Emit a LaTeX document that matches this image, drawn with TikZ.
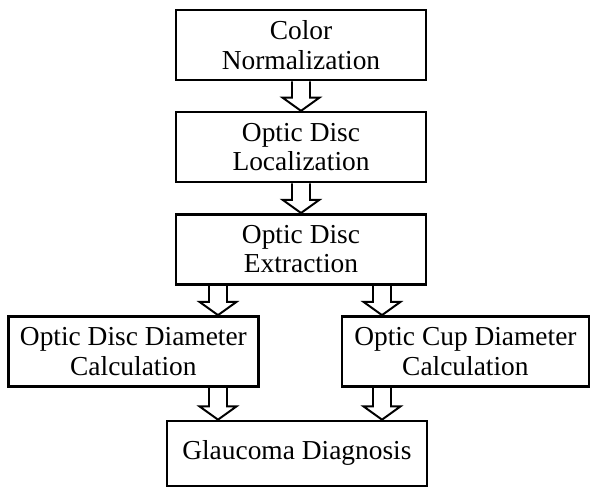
\documentclass[tikz,border=0pt]{standalone}
\usepackage{fontspec}
\setmainfont{Liberation Serif}
\usetikzlibrary{positioning,calc}

\begin{document}
\begin{tikzpicture}[
    node distance = 0.74cm,
    box/.style = {
        rectangle,
        minimum width = 6.25cm,
        minimum height = 1.75cm,
        text centered,
        align = center,
        draw = black,
        line width = 1.8pt,
        fill = white,
        font = \fontsize{19.5}{21}\selectfont
    },
    hollow/.style = {
        line width = 1.4pt,
        to path = {
            let \p1 = (\tikztostart), \p2 = (\tikztotarget) in
            (\x1-0.225cm,\y1) -- (\x1-0.225cm,\y2+0.33cm) -- (\x1-0.46cm,\y2+0.33cm)
            -- (\x1,\y2) -- (\x1+0.46cm,\y2+0.33cm) -- (\x1+0.225cm,\y2+0.33cm)
            -- (\x1+0.225cm,\y1)
        }
    }
]
    \useasboundingbox (0,0) rectangle (14.75,-12.3);

    % Main chain
    \node [box] (color) at (7.525,-1.125) {Color\\Normalization};
    \node [box, below = of color] (locate) {Optic Disc\\Localization};
    \node [box, below = of locate] (extract) {Optic Disc\\Extraction};

    % Diameter calculations
    \node [box, below = of extract, xshift = -4.19cm] (discdia) {Optic Disc Diameter\\Calculation};
    \node [box, below = of extract, xshift = 4.11cm, minimum width = 6.175cm] (cupdia) {Optic Cup Diameter\\Calculation};

    % Diagnosis
    \node [box, below = 0.8cm of discdia, xshift = 4.0875cm, minimum width = 6.5cm, minimum height = 1.625cm] (diag) {Glaucoma Diagnosis};

    % Arrow start points
    \coordinate (a1) at ($(extract.south)+(-2.075,0)$);
    \coordinate (a2) at ($(extract.south)+(2.025,0)$);
    \coordinate (b1) at (discdia.south -| a1);
    \coordinate (b2) at (cupdia.south -| a2);

    % Hollow arrows
    \draw [hollow] (color.south) to (locate.north);
    \draw [hollow] (locate.south) to (extract.north);
    \draw [hollow] (a1) to (discdia.north);
    \draw [hollow] (a2) to (cupdia.north);
    \draw [hollow] (b1) to (diag.north);
    \draw [hollow] (b2) to (diag.north);

\end{tikzpicture}
\end{document}
